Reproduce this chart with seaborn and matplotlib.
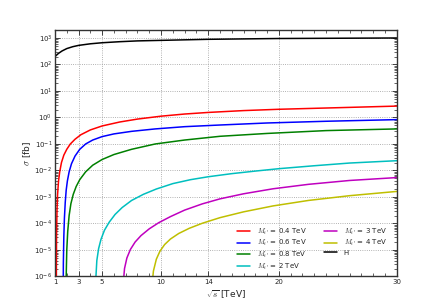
import numpy as np
import pandas as pd
import matplotlib
matplotlib.use('Agg')
import matplotlib.pyplot as plt
from matplotlib.ticker import MultipleLocator, FixedLocator, LogLocator
import seaborn as sns

# sqrt(s) [TeV] and sigma [fb], one pair of arrays per curve
s_04 = [1.10, 1.13, 1.17, 1.22, 1.30, 1.40, 1.55, 1.75, 2.0, 2.3, 2.7, 3.2, 4.0, 5.0, 6.5, 8.0, 10.0, 12.0, 14.0, 17.0, 20.0, 25.0, 30.0]
sig_04 = [1e-8, 3.2e-5, 3.2e-4, 1.26e-3, 4.0e-3, 8.9e-3, 2.0e-2, 3.8e-2, 6.3e-2, 0.10, 0.151, 0.224, 0.339, 0.479, 0.676, 0.871, 1.12, 1.35, 1.55, 1.82, 2.04, 2.34, 2.69]

s_06 = [1.68, 1.71, 1.75, 1.80, 1.87, 1.95, 2.05, 2.2, 2.4, 2.7, 3.1, 3.6, 4.2, 5.0, 6.0, 7.5, 9.5, 12.0, 15.0, 19.0, 24.0, 30.0]
sig_06 = [1e-8, 3.2e-6, 3.2e-5, 1.6e-4, 6.3e-4, 1.8e-3, 4.0e-3, 8.9e-3, 1.8e-2, 3.5e-2, 6.3e-2, 0.10, 0.141, 0.19, 0.24, 0.30, 0.37, 0.45, 0.52, 0.62, 0.72, 0.83]

s_08 = [1.92, 1.95, 2.0, 2.08, 2.2, 2.35, 2.55, 2.8, 3.1, 3.6, 4.2, 5.0, 6.0, 7.5, 9.5, 12.0, 15.0, 19.0, 24.0, 30.0]
sig_08 = [1e-8, 1e-6, 1e-5, 5.0e-5, 2.0e-4, 5.6e-4, 1.26e-3, 2.5e-3, 4.5e-3, 8.9e-3, 1.58e-2, 2.6e-2, 4.0e-2, 6.3e-2, 0.10, 0.141, 0.195, 0.25, 0.32, 0.37]

s_2 = [4.40, 4.45, 4.55, 4.7, 4.9, 5.2, 5.6, 6.1, 6.7, 7.5, 8.5, 9.6, 11.0, 12.5, 14.0, 16.0, 18.0, 20.0, 23.0, 26.0, 30.0]
sig_2 = [1e-8, 6.3e-7, 4.0e-6, 1.12e-5, 2.5e-5, 5.6e-5, 1.12e-4, 2.2e-4, 4.0e-4, 7.4e-4, 1.26e-3, 2.0e-3, 3.2e-3, 4.5e-3, 5.8e-3, 7.6e-3, 9.5e-3, 1.17e-2, 1.51e-2, 1.91e-2, 2.34e-2]

s_3 = [6.72, 6.78, 6.9, 7.1, 7.4, 7.8, 8.3, 9.0, 9.8, 10.8, 12.0, 13.5, 15.0, 17.0, 19.5, 22.5, 26.0, 30.0]
sig_3 = [1e-8, 5.0e-7, 2.0e-6, 5.0e-6, 1.05e-5, 2.0e-5, 3.5e-5, 6.3e-5, 1.07e-4, 1.82e-4, 3.2e-4, 5.5e-4, 8.5e-4, 1.32e-3, 2.04e-3, 3.0e-3, 4.2e-3, 5.4e-3]

s_4 = [9.15, 9.22, 9.35, 9.6, 9.9, 10.3, 10.8, 11.5, 12.4, 13.5, 15.0, 17.0, 19.5, 22.5, 26.0, 30.0]
sig_4 = [1e-8, 4.0e-7, 1.6e-6, 4.5e-6, 8.9e-6, 1.6e-5, 2.6e-5, 4.2e-5, 6.6e-5, 1.02e-4, 1.66e-4, 2.75e-4, 4.6e-4, 7.4e-4, 1.12e-3, 1.62e-3]

s_H = [1.0, 1.3, 1.6, 2.0, 2.5, 3.0, 4.0, 5.0, 6.5, 8.0, 10.0, 14.0, 20.0, 30.0]
sig_H = [200, 263, 324, 398, 468, 525, 603, 661, 724, 776, 813, 891, 955, 1000]

labels = [r"$M_{t'}$ = 0.4 TeV", r"$M_{t'}$ = 0.6 TeV", r"$M_{t'}$ = 0.8 TeV",
          r"$M_{t'}$ = 2 TeV", r"$M_{t'}$ = 3 TeV", r"$M_{t'}$ = 4 TeV", "H"]
colors = ['#ff0000', '#0000ff', '#008000', '#00bfbf', '#bf00bf', '#bfbf00', '#000000']
x_ticks = [1, 3, 5, 10, 14, 20, 30]

series = [(s_04, sig_04), (s_06, sig_06), (s_08, sig_08), (s_2, sig_2),
          (s_3, sig_3), (s_4, sig_4), (s_H, sig_H)]
frames = []
for lab, (xs, ys) in zip(labels, series):
    frames.append(pd.DataFrame({'sqrt_s': xs, 'sigma': ys, 'curve': lab}))
df = pd.concat(frames, ignore_index=True)

sns.set_style('ticks')
plt.rcParams['font.family'] = ['DejaVu Sans']
plt.rcParams['mathtext.fontset'] = 'cm'

fig = plt.figure(figsize=(4.41, 3.08), dpi=100)
ax = fig.add_axes([0.1247, 0.1023, 0.775, 0.8003])

sns.lineplot(data=df, x='sqrt_s', y='sigma', hue='curve', hue_order=labels,
             palette=colors, estimator=None, sort=False, legend=False,
             linewidth=1.1, ax=ax)

ax.set_yscale('log')
ax.set_xlim(1, 30)
ax.set_ylim(1e-6, 2e3)
ax.xaxis.set_major_locator(FixedLocator(x_ticks))
ax.xaxis.set_minor_locator(MultipleLocator(1))
ax.yaxis.set_major_locator(LogLocator(base=10, numticks=20))
ax.yaxis.set_minor_locator(LogLocator(base=10, subs=np.arange(2, 10), numticks=20))
ax.tick_params(which='both', direction='in', top=True, right=True, labelsize=5, pad=2)
ax.tick_params(which='major', length=3.5, width=0.6)
ax.tick_params(which='minor', length=2, width=0.5)
ax.grid(True, which='major', linestyle=':', color='#999999', linewidth=0.6)
for sp in ax.spines.values():
    sp.set_linewidth(1.0)
    sp.set_color('#333333')

ax.set_xlabel(r'$\sqrt{s}$ [TeV]', fontsize=6.5, labelpad=2)
ax.set_ylabel(r'$\sigma$ [fb]', fontsize=6.5, labelpad=1)

handles = ax.get_lines()[:len(labels)]
ax.legend(handles, labels, ncol=2, loc='lower right', bbox_to_anchor=(0.985, 0.0),
          frameon=False, fontsize=5, handlelength=1.9, columnspacing=2.4,
          labelspacing=0.2, handletextpad=1.0, borderaxespad=0.3)

fig.savefig('out.png', dpi=100)
